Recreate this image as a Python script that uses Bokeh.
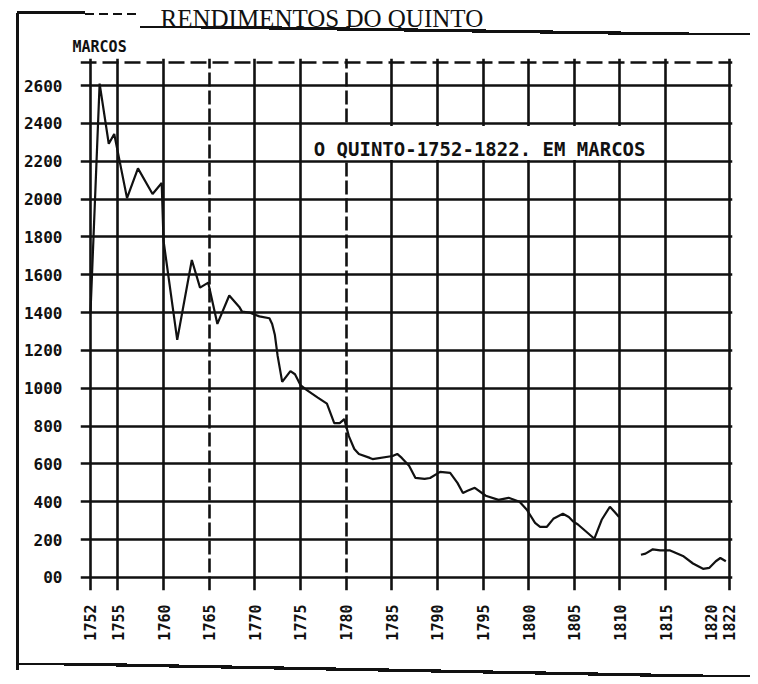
import math
from bokeh.plotting import figure
from bokeh.models import FixedTicker, Grid, Label, Range1d, Title
from bokeh.embed import file_html
from bokeh.resources import INLINE

nan = float("nan")

# Quinto revenue, in marcos
years = [1752.0, 1753.0, 1754.0, 1754.6, 1756.0, 1757.2, 1758.8, 1759.8, 1760.0,
         1761.5, 1763.1, 1764.0, 1764.9, 1765.9, 1767.2, 1768.3, 1768.6, 1769.4,
         1770.5, 1771.6, 1771.9, 1772.2, 1772.5, 1773.0, 1773.9, 1774.4, 1775.0,
         1775.7, 1776.9, 1777.9, 1778.7, 1779.3, 1779.8, 1780.3, 1780.9, 1781.4,
         1782.6, 1782.9, 1785.1, 1785.6, 1786.1, 1786.9, 1787.6, 1788.6, 1789.2,
         1790.3, 1791.4, 1792.2, 1792.8, 1793.3, 1794.1, 1795.3, 1796.7, 1797.8,
         1799.0, 1799.8, 1800.7, 1801.25, 1802.0, 1802.7, 1803.75, 1804.4, 1804.9,
         1805.4, 1807.2, 1808.0, 1808.9, 1809.4, 1809.9, 1811.0, 1812.3, 1812.8,
         1813.6, 1814.4, 1815.5, 1816.9, 1818.0, 1819.1, 1819.8, 1820.5, 1821.0,
         1821.6]
marcos = [1400, 2610, 2292, 2344, 2005, 2162, 2027, 2085, 1780,
          1256, 1678, 1532, 1558, 1340, 1490, 1430, 1405, 1400,
          1380, 1370, 1340, 1281, 1171, 1034, 1091, 1074, 1017,
          990, 951, 919, 816, 816, 837, 747, 679, 653,
          632, 626, 642, 653, 632, 590, 526, 521, 526,
          558, 553, 500, 447, 458, 474, 432, 410, 421,
          400, 358, 289, 268, 268, 310, 337, 320, 295,
          280, 205, 305, 374, 347, 320, nan, 120, 126,
          149, 143, 143, 114, 74, 46, 51, 86, 103,
          86]

x_ticks = [1752, 1755, 1760, 1765, 1770, 1775, 1780, 1785, 1790, 1795,
           1800, 1805, 1810, 1815, 1820, 1822]
solid_vlines = [1752, 1755, 1760, 1770, 1775, 1785, 1790, 1795, 1800,
                1805, 1810, 1815, 1822]
dashed_vlines = [1765, 1780]
y_ticks = [0, 200, 400, 600, 800, 1000, 1200, 1400, 1600, 1800, 2000,
           2200, 2400, 2600]
top_line = [2720]

title_text = "RENDIMENTOS DO QUINTO"
unit_text = "MARCOS"
note_text = "O QUINTO-1752-1822. EM MARCOS"

# caption anchor (top-left corner of its white panel) inside the grid
note_x, note_y = 1775.25, 2386

MONO = "DejaVu Sans Mono"
INK = "#111111"

# sheet border strokes, painted as CSS backgrounds behind the transparent canvas
# (x, y, w, h, kind)
sheet = [
    (16, 13, 3, 657, "solid"),
    (17, 11, 68, 3, "solid"),
    (85, 13, 55, 2, "dash"),
    (140, 26, 610, 9, "diag"),
    (17, 663, 733, 14, "diag"),
]
imgs, sizes, poss = [], [], []
for x, y, w, h, kind in sheet:
    if kind == "dash":
        imgs.append(f"repeating-linear-gradient(to right, {INK} 0px, {INK} 9px, "
                    f"transparent 9px, transparent 14px)")
    elif kind == "diag":
        imgs.append(f"linear-gradient(to top right, transparent calc(50% - 1.6px), "
                    f"{INK} calc(50% - 1.6px), {INK} calc(50% + 1.6px), "
                    f"transparent calc(50% + 1.6px))")
    else:
        imgs.append(f"linear-gradient({INK}, {INK})")
    sizes.append(f"{w}px {h}px")
    poss.append(f"{x}px {y}px")

p = figure(width=750, height=680, x_range=Range1d(1750.905, 1822.33),
           y_range=Range1d(-68.7, 2742.7), output_backend="svg",
           toolbar_location=None, title=None,
           min_border_left=80, min_border_right=18,
           min_border_top=58, min_border_bottom=90)
p.background_fill_color = "white"
p.border_fill_color = None
p.outline_line_color = None
p.styles = {
    "background-color": "white",
    "background-image": ", ".join(imgs),
    "background-size": ", ".join(sizes),
    "background-position": ", ".join(poss),
    "background-repeat": "no-repeat",
}

# grid
p.xgrid.ticker = FixedTicker(ticks=solid_vlines)
p.xgrid.grid_line_color = INK
p.xgrid.grid_line_width = 2.6
p.ygrid.ticker = FixedTicker(ticks=y_ticks)
p.ygrid.grid_line_color = INK
p.ygrid.grid_line_width = 2.4
p.add_layout(Grid(dimension=0, ticker=FixedTicker(ticks=dashed_vlines),
                  grid_line_color=INK, grid_line_width=2.6,
                  grid_line_dash="14 4"))
p.add_layout(Grid(dimension=1, ticker=FixedTicker(ticks=top_line),
                  grid_line_color=INK, grid_line_width=2.4,
                  grid_line_dash="16 6"))

# axes
p.xaxis.ticker = FixedTicker(ticks=x_ticks)
p.xaxis.major_label_orientation = math.pi / 2
p.yaxis.ticker = FixedTicker(ticks=y_ticks)
p.yaxis.major_label_overrides = {0: "00"}
for ax in (p.xaxis, p.yaxis):
    ax.axis_line_color = None
    ax.major_tick_line_color = None
    ax.minor_tick_line_color = None
    ax.major_label_text_font = MONO
    ax.major_label_text_font_style = "bold"
    ax.major_label_text_color = INK
p.xaxis.major_label_text_font_size = "15px"
p.yaxis.major_label_text_font_size = "16px"
p.xaxis.major_label_standoff = 8
p.yaxis.major_label_standoff = 12

# data line and caption (caption on a white panel that hides the grid)
p.line(years, marcos, line_color=INK, line_width=2.2)
p.add_layout(Label(x=note_x, y=note_y, text=note_text, text_font=MONO,
                   text_font_style="bold", text_font_size="19px",
                   text_color=INK, text_baseline="top", text_align="left",
                   background_fill_color="white", background_fill_alpha=1.0,
                   padding=(11, 6, 12, 0)))

# unit label (nearest the frame) and main title (top)
p.add_layout(Title(text=unit_text, align="left", offset=-8, standoff=6,
                   text_font=MONO, text_font_style="bold",
                   text_font_size="15px", text_color=INK), "above")
p.add_layout(Title(text=title_text, align="left", offset=80, standoff=2,
                   text_font="Liberation Serif", text_font_style="normal",
                   text_font_size="25px", text_color=INK), "above")

open("out.html", "w").write(file_html(p, INLINE))
